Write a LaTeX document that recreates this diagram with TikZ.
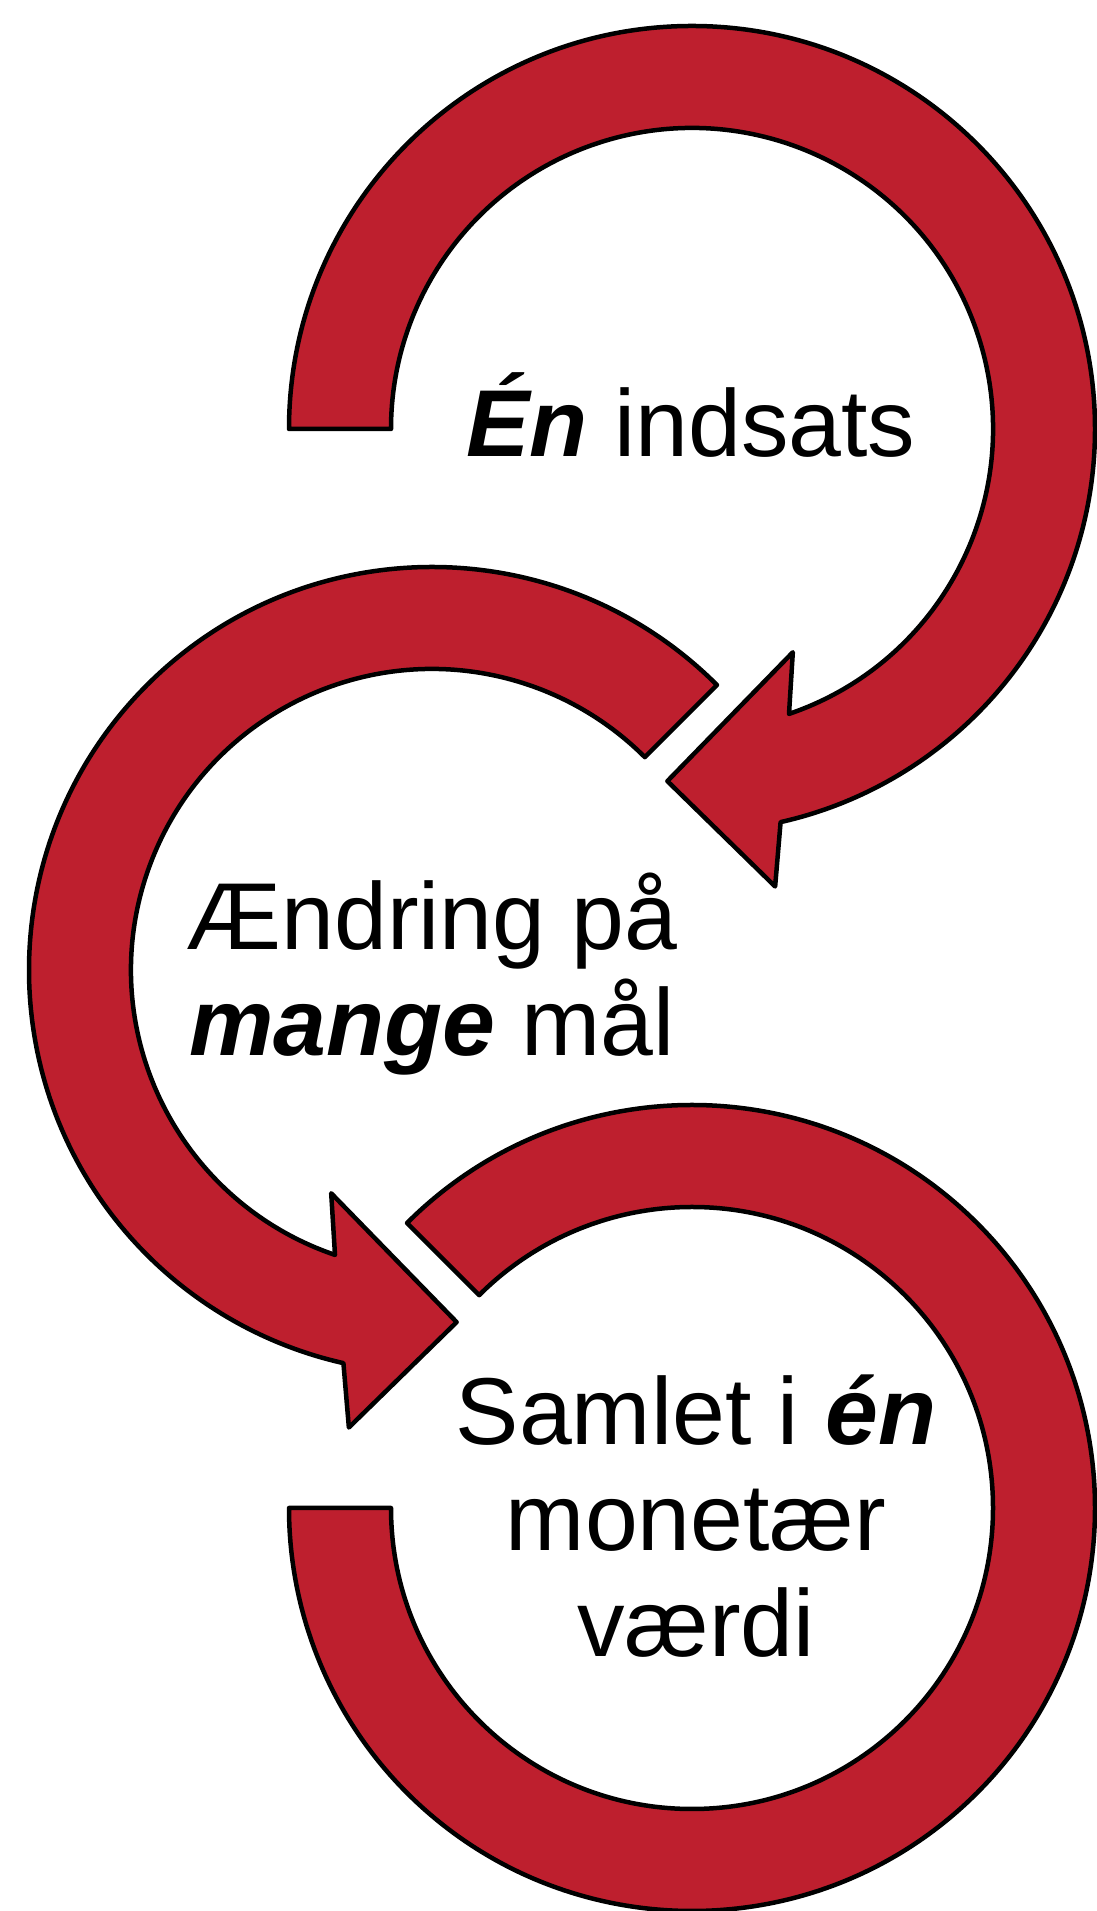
\documentclass[tikz,border=0pt]{standalone}
\usepackage{fontspec}
\setmainfont{Liberation Sans}
\usetikzlibrary{calc}
\definecolor{arcred}{RGB}{190,31,46}
\begin{document}
\begin{tikzpicture}[x=1pt,y=1pt,
  arcshape/.style={fill=arcred,draw=black,line width=4.5pt,line join=round},
  label/.style={align=center,font=\fontsize{95}{106}\selectfont,inner sep=0pt,anchor=base}]
\useasboundingbox (0,0) rectangle (1097,1911);
\def\Ro{403}
\def\Ri{301}
% centres
\coordinate (c1) at (692,1482);
\coordinate (c2) at (432,941);
\coordinate (c3) at (692,403);
% arc 1 (clockwise from 180 deg, arrow head at bottom)
\draw[arcshape] ($(c1)+(180:\Ro)$) arc[start angle=180,end angle=-77.3,radius=\Ro]
  -- ($(c1)+(-79.7:465)$) -- ($(c1)+(-94:353)$) -- ($(c1)+(-65.7:245)$)
  -- ($(c1)+(-71.2:\Ri)$) arc[start angle=-71.2,end angle=180,radius=\Ri] -- cycle;
% arc 2 (counter-clockwise from 45 deg, arrow head at bottom)
\draw[arcshape] ($(c2)+(45:\Ro)$) arc[start angle=45,end angle=257.3,radius=\Ro]
  -- ($(c2)+(259.7:465)$) -- ($(c2)+(274:353)$) -- ($(c2)+(245.7:245)$)
  -- ($(c2)+(251.2:\Ri)$) arc[start angle=251.2,end angle=45,radius=\Ri] -- cycle;
% arc 3 (clockwise from 135 deg to 180 deg, no head)
\draw[arcshape] ($(c3)+(135:\Ro)$) arc[start angle=135,end angle=-180,radius=\Ro]
  -- ($(c3)+(180:\Ri)$) arc[start angle=-180,end angle=135,radius=\Ri] -- cycle;
% texts (base anchor = baseline of last line)
\node[label] (t1) at (691,1454) {\textbf{\textit{Én}} indsats};
\node[label] (t2) at (432,855) {Ændring på\\\textbf{\textit{mange}} mål};
\node[label] (t3) at (696,254) {Samlet i \textbf{\textit{én}}\\monetær\\værdi};
\end{tikzpicture}
\end{document}
